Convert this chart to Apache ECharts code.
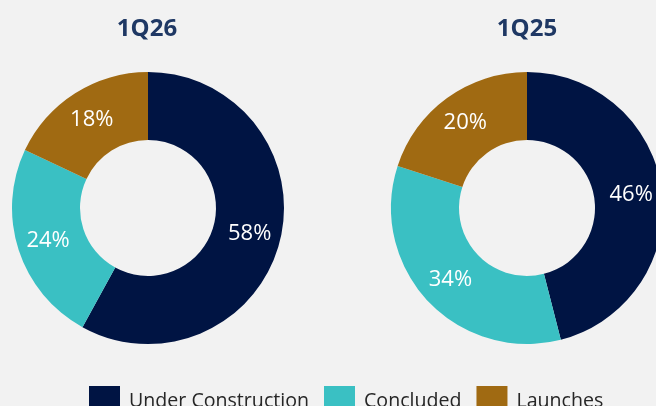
<!DOCTYPE html>
<html>
<head>
<meta charset="utf-8">
<script src="https://cdn.jsdelivr.net/npm/echarts@6/dist/echarts.min.js"></script>
<style>
html,body{margin:0;padding:0;background:#f2f2f2;}
#main{width:656px;height:406px;}
</style>
</head>
<body>
<div id="main"></div>
<script>
const categories = ['Under Construction', 'Concluded', 'Launches'];
const titles = ['1Q26', '1Q25'];
const values1Q26 = [58, 24, 18];
const values1Q25 = [46, 34, 20];
const colors = ['#001443', '#3ac0c3', '#a06a12'];

const chart = echarts.init(document.getElementById('main'), null, {renderer: 'canvas'});

function pieSeries(name, values, center) {
  return {
    type: 'pie',
    name: name,
    center: center,
    radius: [68, 136],
    startAngle: 90,
    clockwise: true,
    avoidLabelOverlap: false,
    silent: true,
    label: {
      show: true,
      position: 'inside',
      formatter: '{c}%',
      color: '#ffffff',
      fontFamily: 'Open Sans',
      fontSize: 22
    },
    labelLine: {show: false},
    itemStyle: {borderWidth: 0},
    data: categories.map((c, i) => ({name: c, value: values[i], itemStyle: {color: colors[i]}}))
  };
}

const option = {
  backgroundColor: '#f2f2f2',
  animation: false,
  title: [
    {text: titles[0], left: 142, top: 12, textAlign: 'center',
     textStyle: {fontFamily: 'Open Sans', fontWeight: 'bold', fontSize: 24, color: '#1f3864'}},
    {text: titles[1], left: 522, top: 12, textAlign: 'center',
     textStyle: {fontFamily: 'Open Sans', fontWeight: 'bold', fontSize: 24, color: '#1f3864'}}
  ],
  legend: {
    data: categories,
    left: 84,
    top: 381,
    itemWidth: 31,
    itemHeight: 31,
    itemGap: 15,
    icon: 'rect',
    selectedMode: false,
    textStyle: {fontFamily: 'Open Sans', fontSize: 19.6, color: '#262626', padding: [0, 0, 0, 4]}
  },
  series: [
    pieSeries(titles[0], values1Q26, [148, 208]),
    pieSeries(titles[1], values1Q25, [527, 208])
  ],
  labelLayout: function (params) {
    if (params.seriesIndex === 1 && params.dataIndex === 0) {
      return {dy: -22};
    }
    if (params.seriesIndex === 0 && params.dataIndex === 0) {
      return {dy: 3};
    }
    return {};
  }
};
chart.setOption(option);
</script>
</body>
</html>
